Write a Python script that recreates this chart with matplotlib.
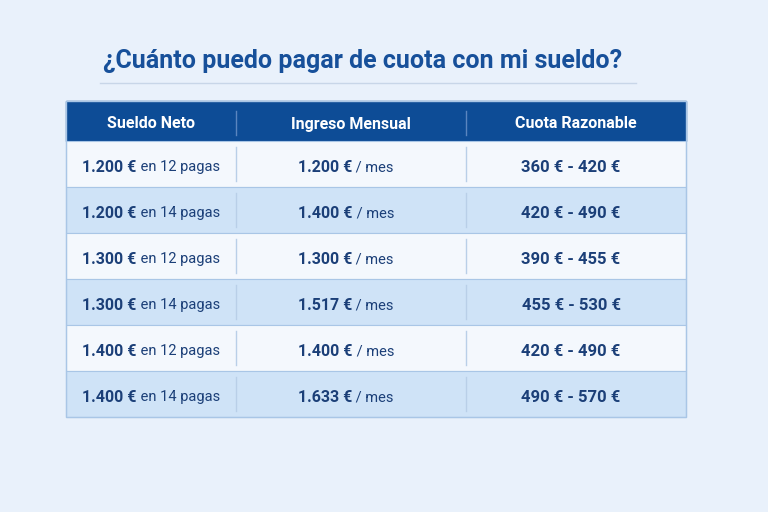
import matplotlib
matplotlib.use("Agg")
import matplotlib.pyplot as plt
from matplotlib.patches import Rectangle

title = "¿Cuánto puedo pagar de cuota con mi sueldo?"
headers = ["Sueldo Neto", "Ingreso Mensual", "Cuota Razonable"]
sueldo = ["1.200 €", "1.200 €", "1.300 €", "1.300 €", "1.400 €", "1.400 €"]
pagas = ["en 12 pagas", "en 14 pagas", "en 12 pagas", "en 14 pagas", "en 12 pagas", "en 14 pagas"]
ingreso = ["1.200 €", "1.400 €", "1.300 €", "1.517 €", "1.400 €", "1.633 €"]
cuota = ["360 € - 420 €", "420 € - 490 €", "390 € - 455 €", "455 € - 530 €", "420 € - 490 €", "490 € - 570 €"]

FAM = ["Roboto", "DejaVu Sans"]
DARK = "#1b3f78"
fig = plt.figure(figsize=(7.68, 5.12), dpi=100, facecolor="#e9f1fb")
ax = fig.add_axes([0, 0, 1, 1])
ax.set_xlim(0, 768); ax.set_ylim(512, 0); ax.axis("off")

ax.text(103, 61, title, fontsize=18, color="#17509a", fontweight="bold", family=FAM, va="center", ha="left")
ax.plot([100, 636], [83, 83], color="#c8d6e8", lw=1)

x0, x1 = 66, 686
seps = [236, 466]
centers = [151, 351, 576]
ax.add_patch(Rectangle((x0, 101), x1 - x0, 40, color="#0d4c96"))
for c, h in zip(centers, headers):
    ax.text(c, 124, h, fontsize=11.5, color="white", fontweight="bold", family=FAM, ha="center", va="center")
for s in seps:
    ax.plot([s, s], [111, 135], color="#5a85bf", lw=1)

rh = 46
fig.canvas.draw()
r = fig.canvas.get_renderer()
def pair(cx, y, b, n):
    tb = ax.text(0, y, b, fontsize=11.5, fontweight="bold", color=DARK, family=FAM, va="center")
    tn = ax.text(0, y, " " + n, fontsize=10.5, color=DARK, family=FAM, va="center")
    wb = tb.get_window_extent(r).width; wn = tn.get_window_extent(r).width
    left = cx - (wb + wn) / 2
    tb.set_x(left); tn.set_x(left + wb)

for i in range(len(sueldo)):
    y = 141 + i * rh
    ax.add_patch(Rectangle((x0, y), x1 - x0, rh, facecolor="#f4f8fd" if i % 2 == 0 else "#cfe3f7",
                           edgecolor="#a9c6e6", lw=0.8))
    for s in seps:
        ax.plot([s, s], [y + 6, y + rh - 6], color="#b9cfe8", lw=1)
    yc = y + rh / 2 + 3
    pair(centers[0], yc, sueldo[i], pagas[i])
    pair(centers[1] - 5, yc, ingreso[i], "/ mes")
    ax.text(centers[2] - 5, yc, cuota[i], fontsize=12, fontweight="bold", color=DARK, family=FAM, ha="center", va="center")
ax.add_patch(Rectangle((x0, 101), x1 - x0, 141 + 6 * rh - 101, fill=False, edgecolor="#a9c6e6", lw=1))
fig.savefig("out.png", dpi=100, facecolor=fig.get_facecolor())
